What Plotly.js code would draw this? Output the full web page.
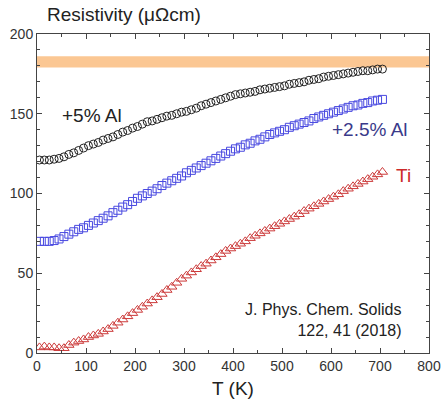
<!DOCTYPE html>
<html><head><meta charset="utf-8">
<script src="https://cdn.plot.ly/plotly-3.0.1.min.js"></script>
<style>html,body{margin:0;padding:0;background:#fff}#chart{width:442px;height:402px}</style>
</head><body><div id="chart"></div>
<script>
const temperature = [5,15,25,35,45,55,65,75,85,95,105,115,125,135,145,155,165,175,185,195,205,215,225,235,245,255,265,275,285,295,305,315,325,335,345,355,365,375,385,395,405,415,425,435,445,455,465,475,485,495,505,515,525,535,545,555,565,575,585,595,605,615,625,635,645,655,665,675,685,695,705];
const al5 = [121,121,121,121.5,122,123,124.5,125.5,127,128.5,130,131,132,133.5,134.5,135.5,137,138.5,139.5,141,142,143.5,145,145.5,146.5,147.5,148.5,149,150,151,151.5,152.5,153.5,155,156,157,158,159,160,161,162,162.5,163,163.5,164,165,165.5,166,166.5,167,167.5,168.5,169,169.5,170,171,171.5,172,173,173.5,174,174.5,175,175.5,176,176.5,177,177,177.5,178,178];
const al25 = [70,70,70,70.5,71.5,73,74.5,76,77.5,78.5,80,81.5,83,84.5,86,88,89.5,91.5,93,95,97,98.5,100,101.5,103,105,106.5,108,109.5,111,113,114.5,116,117.5,119,120.5,122,123.5,125,126.5,128,129,130.5,131.5,133,134,135.5,137,138,139,140,141.5,142.5,143.5,144.5,145.5,147,148,149,150,151,152,153,154,155,155.5,156.5,157,158,158.5,159];
const ti = [3.5,4,3.5,3.5,3,3,5,6.5,7.5,8.5,10,11,12,13.5,15,17,19,21,23,25,27,29,31,33,35,37,39.5,41.5,44,46.5,48.5,50.5,52.5,54.5,56,58,60,62,64,65.5,67,68.5,70,72,73.5,75,76.5,78,79.5,81,82.5,84,85.5,87,89,90.5,92,93.5,95,96.5,98,99.5,101.5,103,104.5,106,107.5,109,110.5,112,113.5];
const bandLow = 179, bandHigh = 186;
const xTicks = [0,100,200,300,400,500,600,700,800];
const yTicks = [0,50,100,150,200];

const font = 'Liberation Sans, Arial, sans-serif';
const traces = [
  {x: temperature, y: al5, mode:'markers', type:'scatter',
   marker:{symbol:'circle-open', size:8, color:'#222', line:{width:1, color:'#222'}}},
  {x: temperature, y: al25, mode:'markers', type:'scatter',
   marker:{symbol:'square-open', size:8, color:'#4848e0', line:{width:1, color:'#4848e0'}}},
  {x: temperature, y: ti, mode:'markers', type:'scatter',
   marker:{symbol:'triangle-up-open', size:9, color:'#cc3a3a', line:{width:1, color:'#cc3a3a'}}}
];
const axisCommon = {
  showgrid:false, zeroline:false, showline:true, linecolor:'#444', linewidth:1,
  mirror:'allticks', ticks:'inside', ticklen:5, tickcolor:'#444', tickwidth:1,
  tickfont:{family:font, size:14, color:'#333'}
};
const layout = {
  width:442, height:402,
  margin:{l:37, r:13, t:34, b:49},
  paper_bgcolor:'#fff', plot_bgcolor:'#fff',
  showlegend:false,
  xaxis: Object.assign({}, axisCommon, {
    range:[0,800], tickvals:xTicks, ticktext:xTicks.map(String),
    minor:{dtick:50, ticks:'inside', ticklen:3, tickcolor:'#444', showgrid:false},
    title:{text:'T (K)', font:{family:font, size:19, color:'#222'}, standoff:8}
  }),
  yaxis: Object.assign({}, axisCommon, {
    range:[0,200], tickvals:yTicks, ticktext:yTicks.map(String),
    minor:{dtick:10, ticks:'inside', ticklen:3, tickcolor:'#444', showgrid:false}
  }),
  shapes:[{type:'rect', xref:'paper', x0:0, x1:1, yref:'y', y0:bandLow, y1:bandHigh,
    fillcolor:'#fbc793', line:{width:0}, layer:'below'}],
  annotations:[
    {text:'Resistivity (μΩcm)', xref:'paper', yref:'paper', x:0.02, y:1.06, xanchor:'left', yanchor:'middle',
     showarrow:false, font:{family:font, size:19, color:'#222'}},
    {text:'+5% Al', xref:'x', yref:'y', x:46, y:149, xanchor:'left', showarrow:false,
     font:{family:font, size:19, color:'#222'}},
    {text:'+2.5% Al', xref:'x', yref:'y', x:762, y:140, xanchor:'right', showarrow:false,
     font:{family:font, size:19, color:'#3a3a8a'}},
    {text:'Ti', xref:'x', yref:'y', x:728, y:111, xanchor:'left', showarrow:false,
     font:{family:font, size:19, color:'#cc2a2a'}},
    {text:'J. Phys. Chem. Solids<br>122, 41 (2018)', xref:'x', yref:'y', x:748, y:21, xanchor:'right', align:'right',
     showarrow:false, font:{family:font, size:16, color:'#222'}}
  ]
};
Plotly.newPlot('chart', traces, layout, {staticPlot:true, displayModeBar:false});
</script></body></html>
